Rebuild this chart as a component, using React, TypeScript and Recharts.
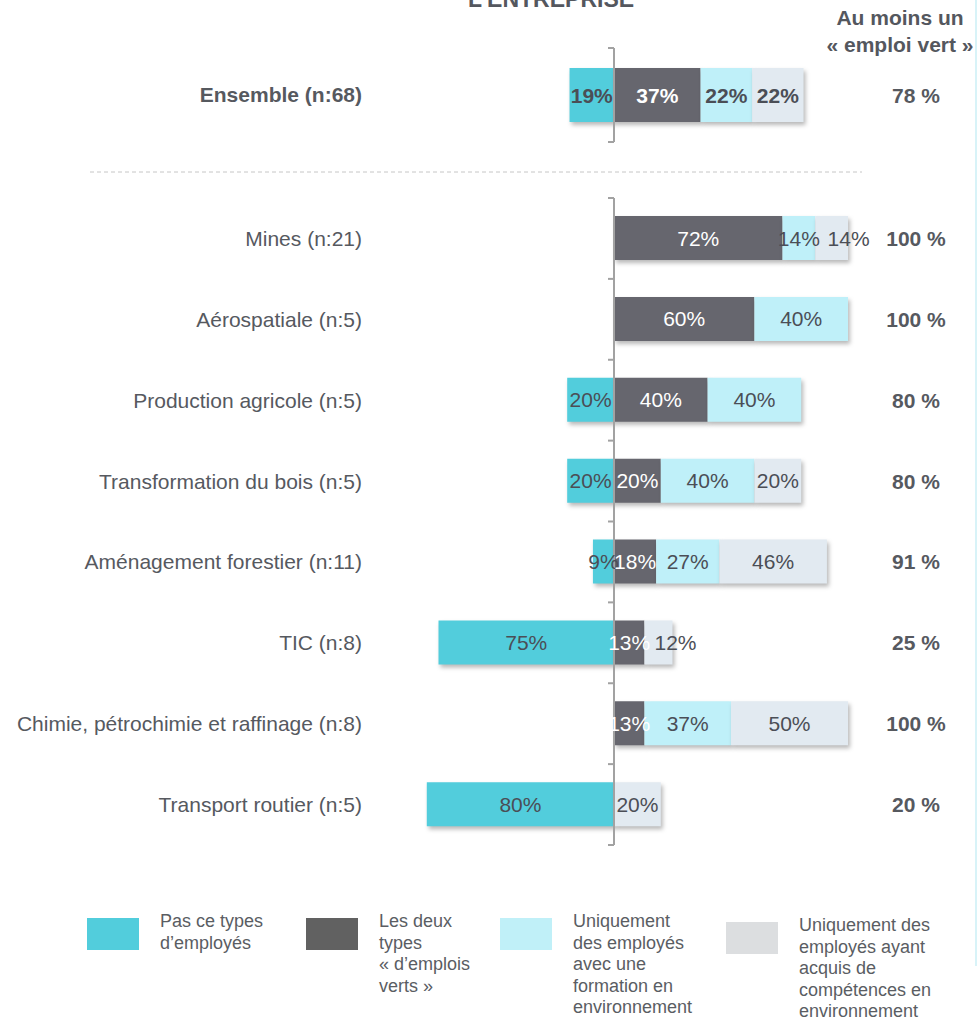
import React from "react";
import {
  BarChart,
  Bar,
  XAxis,
  YAxis,
  ReferenceLine,
  LabelList,
  Rectangle,
} from "recharts";

// --- data ---
const categories = [
  "Mines (n:21)",
  "Aérospatiale (n:5)",
  "Production agricole (n:5)",
  "Transformation du bois (n:5)",
  "Aménagement forestier (n:11)",
  "TIC (n:8)",
  "Chimie, pétrochimie et raffinage (n:8)",
  "Transport routier (n:5)",
];
const pasCeTypes = [0, 0, 20, 20, 9, 75, 0, 80];
const lesDeux = [72, 60, 40, 20, 18, 13, 13, 0];
const formation = [14, 40, 40, 40, 27, 0, 37, 0];
const competences = [14, 0, 0, 20, 46, 12, 50, 20];
const auMoinsUn = ["100 %", "100 %", "80 %", "80 %", "91 %", "25 %", "100 %", "20 %"];

const ensembleLabel = "Ensemble (n:68)";
const ensembleValues = [19, 37, 22, 22];
const ensembleTotal = "78 %";

const seriesKeys = ["pas", "deux", "formation", "competences"];
const seriesNames = [
  "Pas ce types\nd’employés",
  "Les deux\ntypes\n« d’emplois\nverts »",
  "Uniquement\ndes employés\navec une\nformation en\nenvironnement",
  "Uniquement des\nemployés ayant\nacquis de\ncompétences en\nenvironnement",
];
const barColors = ["#52cddc", "#66666e", "#bff0f9", "#e2eaf1"];
const swatchColors = ["#52cddc", "#616161", "#c0f0f8", "#dcdee0"];
const labelColors = ["#4b4e56", "#ffffff", "#4b4e56", "#4b4e56"];

const FONT = '"Liberation Sans", Arial, Helvetica, sans-serif';
const TEXT = "#56595f";
const AXIS = "#a2a2a2";

const rows = categories.map((name, i) => ({
  name,
  pas: -pasCeTypes[i],
  deux: lesDeux[i],
  formation: formation[i],
  competences: competences[i],
  total: auMoinsUn[i],
}));

const ensembleRows = [
  {
    name: ensembleLabel,
    pas: -ensembleValues[0],
    deux: ensembleValues[1],
    formation: ensembleValues[2],
    competences: ensembleValues[3],
    total: ensembleTotal,
  },
];

const ShadowRect = (props: any) => (
  <Rectangle
    {...props}
    style={{ filter: "drop-shadow(2px 3px 2px rgba(0,0,0,0.28))" }}
  />
);

// zero line with small ticks at each band boundary
const zeroAxis = (bands: number) => (p: any) => {
  const { x1, y1, x2, y2 } = p;
  const top = Math.min(y1, y2);
  const bot = Math.max(y1, y2);
  const step = (bot - top) / bands;
  return (
    <g>
      <line x1={x1} x2={x2} y1={y1} y2={y2} stroke={AXIS} strokeWidth={2} />
      {Array.from({ length: bands + 1 }, (_, i) => (
        <line
          key={i}
          x1={x1 - 6}
          x2={x1}
          y1={top + i * step}
          y2={top + i * step}
          stroke={AXIS}
          strokeWidth={2}
        />
      ))}
    </g>
  );
};

// last segment: narrow ones get their label pushed out to the right
const makeLabel = (color: string, bold: boolean, last: boolean) => (p: any) => {
  const { x, y, width, height, value } = p;
  if (!value) return null;
  const narrow = last && Math.abs(width) < 40;
  return (
    <text
      x={narrow ? x + width / 2 - 4 : x + width / 2}
      y={y + height / 2}
      textAnchor={narrow ? "start" : "middle"}
      dominantBaseline="central"
      fill={color}
      fontSize={21}
      fontWeight={bold ? 700 : 400}
      fontFamily={FONT}
    >
      {Math.abs(value)}%
    </text>
  );
};

function StackChart({
  data,
  height,
  barSize,
  bold,
}: {
  data: any[];
  height: number;
  barSize: number;
  bold: boolean;
}) {
  const totals: Record<string, string> = {};
  data.forEach((d) => (totals[d.name] = d.total));

  return (
    <BarChart
      width={977}
      height={height}
      data={data}
      layout="vertical"
      stackOffset="sign"
      margin={{ top: 18, right: 29, bottom: 18, left: 0 }}
    >
      <XAxis type="number" domain={[-100, 100]} hide />
      <YAxis
        yAxisId="cat"
        type="category"
        dataKey="name"
        width={380}
        axisLine={false}
        tickLine={false}
        tickMargin={12}
        interval={0}
        tick={{ fontSize: 21, fill: TEXT, fontFamily: FONT, fontWeight: bold ? 700 : 400 }}
      />
      <YAxis
        yAxisId="total"
        orientation="right"
        type="category"
        dataKey="name"
        width={100}
        axisLine={false}
        tickLine={false}
        tickMargin={62}
        interval={0}
        tick={(t: any) => (
          <text
            x={t.x}
            y={t.y}
            textAnchor="middle"
            dominantBaseline="central"
            fontSize={21}
            fontWeight={700}
            fill={TEXT}
            fontFamily={FONT}
          >
            {totals[t.payload.value]}
          </text>
        )}
      />
      {seriesKeys.map((k, i) => (
        <Bar
          key={k}
          yAxisId="cat"
          dataKey={k}
          stackId="s"
          fill={barColors[i]}
          barSize={barSize}
          shape={ShadowRect}
          isAnimationActive={false}
        >
          <LabelList
            dataKey={k}
            content={makeLabel(labelColors[i], bold, i === seriesKeys.length - 1)}
          />
        </Bar>
      ))}
      <ReferenceLine yAxisId="cat" x={0} stroke={AXIS} shape={zeroAxis(data.length)} />
    </BarChart>
  );
}

function LegendBlock() {
  const lefts = [87, 306, 500, 726];
  return (
    <>
      {seriesNames.map((n, i) => (
        <div
          key={n}
          style={{ position: "absolute", left: lefts[i], top: i === 3 ? 915 : 911, display: "flex" }}
        >
          <div
            style={{
              width: 52,
              height: 32,
              marginTop: i === 3 ? 7 : 7,
              background: swatchColors[i],
              flex: "none",
            }}
          />
          <div
            style={{
              marginLeft: 21,
              whiteSpace: "pre-line",
              fontSize: 18,
              lineHeight: "21.5px",
              color: "#5a5d63",
            }}
          >
            {n}
          </div>
        </div>
      ))}
    </>
  );
}

export default function App() {
  return (
    <div
      style={{
        position: "absolute",
        left: 0,
        top: 0,
        width: 977,
        height: 1021,
        overflow: "hidden",
        background: "#fff",
        fontFamily: FONT,
      }}
    >
      <div
        style={{
          position: "absolute",
          left: 351,
          width: 400,
          top: -12,
          textAlign: "center",
          fontSize: 23,
          lineHeight: "23px",
          fontWeight: 700,
          color: "#54575e",
        }}
      >
        L’ENTREPRISE
      </div>
      <div
        style={{
          position: "absolute",
          left: 800,
          width: 200,
          top: 4,
          textAlign: "center",
          fontSize: 21,
          lineHeight: "27px",
          fontWeight: 700,
          color: "#54575e",
        }}
      >
        Au moins un
        <br />« emploi vert »
      </div>
      <div
        style={{
          position: "absolute",
          left: 975,
          top: 0,
          width: 2,
          height: 966,
          background: "#d8f3f8",
        }}
      />
      <div style={{ position: "absolute", left: 0, top: 30 }}>
        <StackChart data={ensembleRows} height={130} barSize={54} bold />
      </div>
      <svg
        width={977}
        height={4}
        style={{ position: "absolute", left: 0, top: 170 }}
      >
        <line x1={90} x2={862} y1={2} y2={2} stroke="#c6c6c6" strokeDasharray="4 3" />
      </svg>
      <div style={{ position: "absolute", left: 0, top: 180 }}>
        <StackChart data={rows} height={683} barSize={44} bold={false} />
      </div>
      <LegendBlock />
    </div>
  );
}
